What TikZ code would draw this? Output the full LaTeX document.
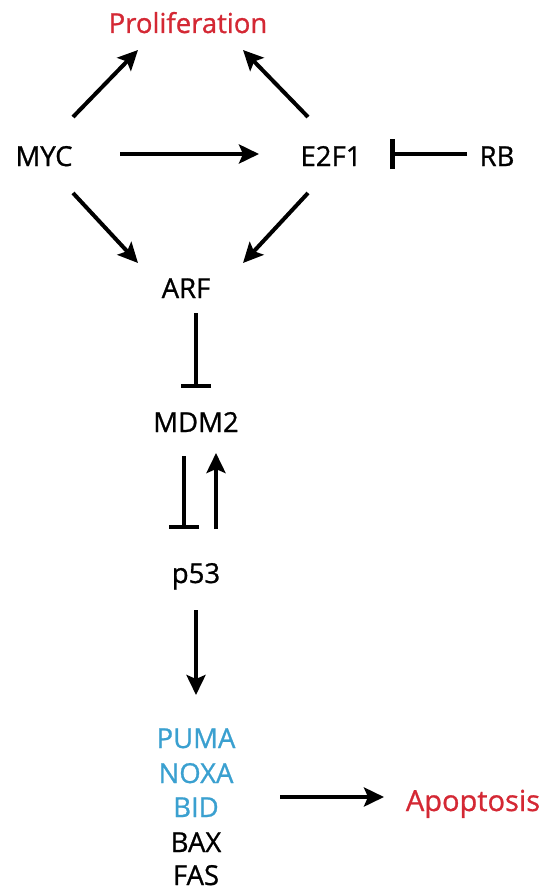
\documentclass[tikz,border=0pt]{standalone}
\usepackage{fontspec}
\setmainfont{Open Sans}[FakeBold=0.9]
\usetikzlibrary{arrows.meta}
\definecolor{myred}{RGB}{212,40,52}
\definecolor{myblue}{RGB}{58,160,208}
\tikzset{
  lbl/.style={anchor=base, inner sep=0pt, font=\fontsize{27.5}{30}\selectfont},
  act/.style={line width=4pt, -{Stealth[length=20pt,width=19pt,inset=4pt]}},
  inh/.style={line width=4pt, -{Bar[width=30pt,line width=4.5pt]}, shorten >=-2pt}
}
\begin{document}
\begin{tikzpicture}[x=1pt,y=-1pt]
\fill[white] (0,0) rectangle (546,891);
\useasboundingbox (0,0) rectangle (546,891);
% nodes
\node[lbl, text=myred] (prol) at (188,33) {Proliferation};
\node[lbl] (myc) at (44,166) {MYC};
\node[lbl] (e2f1) at (331,166) {E2F1};
\node[lbl] (rb) at (497,166) {RB};
\node[lbl] (arf) at (186,298) {ARF};
\node[lbl] (mdm2) at (196,432) {MDM2};
\node[lbl] (p53) at (196,583) {p53};
\node[lbl, text=myblue] (puma) at (196,748) {PUMA};
\node[lbl, text=myblue] (noxa) at (196,783) {NOXA};
\node[lbl, text=myblue] (bid) at (196,817) {BID};
\node[lbl] (bax) at (196,852) {BAX};
\node[lbl] (fas) at (196,885) {FAS};
\node[lbl, text=myred, font=\fontsize{29}{30}\selectfont] (apop) at (473,811) {Apoptosis};
% connector end points
\coordinate (mycP) at (73,117);   \coordinate (prolL) at (138,50);
\coordinate (e2fP) at (308,117);  \coordinate (prolR) at (243,50);
\coordinate (mycE) at (120,154);  \coordinate (e2fW) at (259,154);
\coordinate (rbW) at (467,154);   \coordinate (e2fE) at (392,154);
\coordinate (mycA) at (73,193);   \coordinate (arfL) at (138,263);
\coordinate (e2fA) at (308,193);  \coordinate (arfR) at (243,263);
\coordinate (arfS) at (196,313);  \coordinate (mdmN) at (196,386);
\coordinate (mdmSL) at (184,456); \coordinate (p53NL) at (184,527);
\coordinate (p53NR) at (216,529); \coordinate (mdmSR) at (216,453);
\coordinate (p53S) at (196,610);  \coordinate (pumaN) at (196,695);
\coordinate (bidE) at (280,797);  \coordinate (apopW) at (384,797);
% connectors
\draw[act] (mycP) -- (prolL);
\draw[act] (e2fP) -- (prolR);
\draw[act] (mycE) -- (e2fW);
\draw[inh] (rbW) -- (e2fE);
\draw[act] (mycA) -- (arfL);
\draw[act] (e2fA) -- (arfR);
\draw[inh] (arfS) -- (mdmN);
\draw[inh] (mdmSL) -- (p53NL);
\draw[act] (p53NR) -- (mdmSR);
\draw[act] (p53S) -- (pumaN);
\draw[act] (bidE) -- (apopW);
\end{tikzpicture}
\end{document}
